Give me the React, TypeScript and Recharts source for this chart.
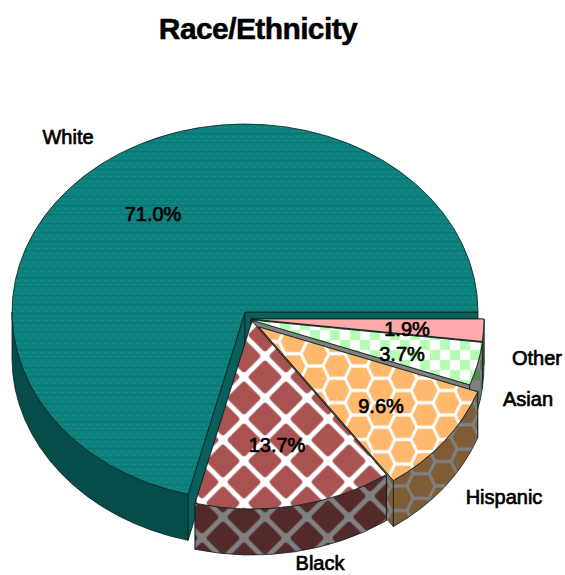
import React from "react";
import { PieChart, Pie } from "recharts";

const names = ["Other", "Asian", "Hispanic", "Black", "White"];
const shares = [1.9, 3.7, 9.6, 13.7, 71.0];
const tableData = names.map((name, i) => ({ name, value: shares[i] }));

// vertical squash of the tilted disc and the height of its rim
const TILT = 188 / 233;
const DEPTH = 46;

// how far each slice is pulled out of the disc
const explode: Record<string, [number, number]> = {
  White: [0, 0],
  Black: [7, 9],
  Hispanic: [14, 15],
  Asian: [6, 8],
  Other: [6, 7],
};

const topFill: Record<string, string> = {
  White: "url(#whiteTop)",
  Black: "url(#blackTop)",
  Hispanic: "url(#hispanicTop)",
  Asian: "url(#asianTop)",
  Other: "#ffaaaa",
};

const rimFill: Record<string, string> = {
  White: "#064c4a",
  Black: "url(#blackRim)",
  Hispanic: "url(#hispanicRim)",
  Asian: "url(#asianRim)",
  Other: "#7f5555",
};

const cutFill: Record<string, string> = {
  White: "#0a5f5c",
  Black: "#532929",
  Hispanic: "url(#hispanicRim)",
  Asian: "#808080",
  Other: "#7f5555",
};

// label anchors, relative to the slice's own apex
const nameAt: Record<string, [number, number]> = {
  White: [-177, -175],
  Black: [68, 242],
  Hispanic: [245, 170],
  Asian: [277, 79],
  Other: [286, 39],
};
const shareAt: Record<string, [number, number]> = {
  White: [-92, -98],
  Black: [25, 124],
  Hispanic: [122, 79],
  Asian: [151, 34],
  Other: [156, 10],
};

const labelStyle = {
  fontFamily: "'Liberation Sans', Arial, sans-serif",
  fontSize: 20,
  fill: "#000",
  stroke: "#000",
  strokeWidth: 0.7,
  textAnchor: "middle" as const,
  dominantBaseline: "central" as const,
};

const SliceShape = (props: any, layer: "back" | "front") => {
  const { cx, cy, outerRadius, startAngle, endAngle, name } = props;
  const label = name ?? props.payload?.name;
  const isBack = label === "White";
  if (isBack !== (layer === "back")) return <g />;

  const [dx, dy] = explode[label];
  const ax = cx + dx;
  const ay = cy + dy;
  const rx = outerRadius;
  const ry = outerRadius * TILT;
  const lo = Math.min(startAngle, endAngle);
  const hi = Math.max(startAngle, endAngle);
  const pt = (deg: number, drop = 0) => {
    const t = (deg * Math.PI) / 180;
    return `${ax + rx * Math.cos(t)} ${ay - ry * Math.sin(t) + drop}`;
  };
  const large = hi - lo > 180 ? 1 : 0;
  const top = `M${ax} ${ay} L${pt(lo)} A${rx} ${ry} 0 ${large} 0 ${pt(hi)} Z`;
  const cut = (deg: number) =>
    `M${ax} ${ay} L${pt(deg)} L${pt(deg, DEPTH)} L${ax} ${ay + DEPTH} Z`;

  const rimLo = Math.max(lo, 180);
  const rimHi = Math.min(hi, 360);
  const rim =
    rimHi > rimLo
      ? `M${pt(rimLo)} A${rx} ${ry} 0 0 0 ${pt(rimHi)} L${pt(rimHi, DEPTH)} A${rx} ${ry} 0 0 1 ${pt(rimLo, DEPTH)} Z`
      : null;
  const edge = { stroke: "#06201f", strokeWidth: 0.8, strokeLinejoin: "round" as const };

  return (
    <g>
      <path d={cut(hi)} fill={cutFill[label]} {...edge} />
      <path d={cut(lo)} fill={cutFill[label]} {...edge} />
      {rim && <path d={rim} fill={rimFill[label]} {...edge} />}
      <path d={top} fill={topFill[label]} {...edge} />
    </g>
  );
};

const SliceLabels = (props: any) => {
  const { cx, cy, name, value } = props;
  const label = name ?? props.payload?.name;
  const [dx, dy] = explode[label];
  const ax = cx + dx;
  const ay = cy + dy;
  return (
    <g>
      <text x={ax + nameAt[label][0]} y={ay + nameAt[label][1]} {...labelStyle}>
        {label}
      </text>
      <text x={ax + shareAt[label][0]} y={ay + shareAt[label][1]} {...labelStyle}>
        {`${Number(value).toFixed(1)}%`}
      </text>
    </g>
  );
};

// honeycomb cell: one at each corner of the tile and one in the middle
const HoneyTile = ({ fill, line }: { fill: string; line: string }) => {
  const cell = "-12 0 -7 -10.3 7 -10.3 12 0 7 10.3 -7 10.3";
  const spots = [
    [0, 0],
    [44, 0],
    [0, 24.5],
    [44, 24.5],
    [22, 12.25],
  ];
  return (
    <>
      <rect width="44" height="24.5" fill={line} />
      {spots.map(([x, y]) => (
        <polygon
          key={`${x}-${y}`}
          points={cell}
          transform={`translate(${x} ${y})`}
          fill={fill}
          stroke={fill}
          strokeWidth="0.6"
          strokeLinejoin="round"
        />
      ))}
    </>
  );
};

const Patterns = () => (
  <defs>
    <pattern id="whiteTop" width="8" height="9" patternUnits="userSpaceOnUse">
      <rect width="8" height="9" fill="#0b807c" />
      <rect y="1" width="5" height="1" fill="#178a86" />
      <rect x="3" y="5" width="5" height="1" fill="#178a86" />
      <rect y="7" width="8" height="1" fill="#0a7672" />
    </pattern>
    <pattern id="blackTop" width="29.7" height="29.7" patternUnits="userSpaceOnUse" patternTransform="translate(265 356) rotate(45)">
      <rect width="29.7" height="29.7" fill="#fff" />
      <rect x="2.5" y="2.5" width="24.7" height="24.7" rx="3" fill="#a85252" />
    </pattern>
    <pattern id="blackRim" width="29.7" height="29.7" patternUnits="userSpaceOnUse" patternTransform="translate(244 496) rotate(45)">
      <rect width="29.7" height="29.7" fill="#808080" />
      <rect x="2.5" y="2.5" width="24.7" height="24.7" rx="3" fill="#532929" />
    </pattern>
    <pattern id="hispanicTop" width="44" height="24.5" patternUnits="userSpaceOnUse" patternTransform="translate(425 415)">
      <HoneyTile fill="#ffb86c" line="#fff" />
    </pattern>
    <pattern id="hispanicRim" width="44" height="24.5" patternUnits="userSpaceOnUse" patternTransform="translate(465 437)">
      <HoneyTile fill="#7f5c36" line="#808080" />
    </pattern>
    <pattern id="asianTop" width="20" height="20" patternUnits="userSpaceOnUse">
      <rect width="20" height="20" fill="#fff" />
      <rect width="10" height="10" fill="#b3ffb3" />
      <rect x="10" y="10" width="10" height="10" fill="#b3ffb3" />
    </pattern>
    <pattern id="asianRim" width="20" height="20" patternUnits="userSpaceOnUse">
      <rect width="20" height="20" fill="#808080" />
      <rect width="10" height="10" fill="#5a805a" />
      <rect x="10" y="10" width="10" height="10" fill="#5a805a" />
    </pattern>
  </defs>
);

export default function App() {
  return (
    <div style={{ position: "absolute", left: 0, top: 0, width: 565, height: 575 }}>
      <PieChart width={565} height={575} margin={{ top: 0, right: 0, bottom: 0, left: 0 }}>
        <Patterns />
        <text
          x={258}
          y={28}
          textAnchor="middle"
          dominantBaseline="central"
          stroke="#000"
          strokeWidth={0.5}
          style={{
            fontFamily: "'Liberation Sans', Arial, sans-serif",
            fontWeight: 700,
            fontSize: 30,
            letterSpacing: -0.6,
          }}
          fill="#000"
        >
          Race/Ethnicity
        </text>
        <Pie
          data={tableData}
          dataKey="value"
          nameKey="name"
          cx={245}
          cy={312}
          outerRadius={233}
          startAngle={360}
          endAngle={0}
          isAnimationActive={false}
          shape={(p: any) => SliceShape(p, "back")}
        />
        <Pie
          data={tableData}
          dataKey="value"
          nameKey="name"
          cx={245}
          cy={312}
          outerRadius={233}
          startAngle={360}
          endAngle={0}
          isAnimationActive={false}
          shape={(p: any) => SliceShape(p, "front")}
          label={SliceLabels}
          labelLine={false}
        />
      </PieChart>
    </div>
  );
}
